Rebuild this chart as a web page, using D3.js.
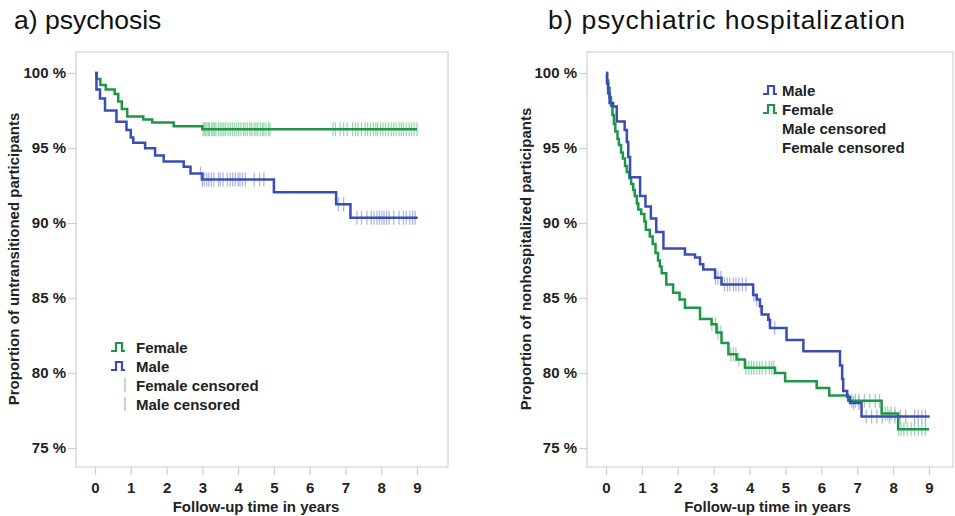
<!DOCTYPE html>
<html>
<head>
<meta charset="utf-8">
<script src="https://cdn.jsdelivr.net/npm/d3@7"></script>
<style>
  body { margin: 0; background: #fff; }
  text { font-family: "Liberation Sans", Arial, sans-serif; }
</style>
</head>
<body>
<svg id="chart" width="955" height="516"></svg>
<script>
// follow-up years on the x axis, percent on the y axis
let xTicks = [0, 1, 2, 3, 4, 5, 6, 7, 8, 9]
let yTicks = [75, 80, 85, 90, 95, 100]

// a) psychosis, Kaplan-Meier steps [year, percent]
let psyFemale = [
  [0, 100], [0.05, 99.6], [0.15, 99.2], [0.3, 98.9], [0.55, 98.6], [0.65, 98.1],
  [0.75, 97.6], [0.9, 97.1], [1.35, 96.9], [1.6, 96.7], [2.2, 96.45], [3.0, 96.25], [9.0, 96.25]
]
let psyMale = [
  [0, 100], [0.04, 98.9], [0.14, 98.3], [0.28, 97.5], [0.6, 96.75], [0.88, 96.2],
  [1.0, 95.7], [1.07, 95.35], [1.4, 94.98], [1.68, 94.5], [1.92, 94.1], [2.48, 93.75],
  [2.67, 93.3], [3.0, 92.9], [5.0, 92.05], [6.74, 91.25], [7.14, 90.35], [9.02, 90.35]
]
let psyFemaleCensored = [
  3.02, 3.05, 3.09, 3.13, 3.17, 3.2, 3.26, 3.3, 3.34, 3.38, 3.45, 3.5, 3.55, 3.6, 3.65,
  3.72, 3.78, 3.84, 3.9, 3.96, 4.02, 4.08, 4.15, 4.2, 4.26, 4.33, 4.38, 4.45, 4.5, 4.55,
  4.62, 4.68, 4.72, 4.78, 4.85, 4.89,
  6.65, 6.72, 6.85, 6.95, 7.05, 7.2, 7.28, 7.35, 7.45, 7.55, 7.62, 7.7, 7.78, 7.85, 7.9,
  7.98, 8.05, 8.12, 8.2, 8.28, 8.35, 8.42, 8.5, 8.56, 8.62, 8.7, 8.78, 8.85, 8.92, 9.0
]
let psyMaleCensored = [
  2.95, 3.0, 3.05, 3.12, 3.18, 3.25, 3.32, 3.45, 3.5, 3.58, 3.7, 3.78, 3.85, 3.92, 4.0,
  4.05, 4.12, 4.2, 4.45, 4.6, 4.72, 6.8, 6.95,
  7.32, 7.45, 7.6, 7.72, 7.8, 7.88, 7.95, 8.02, 8.08, 8.15, 8.22, 8.35, 8.5, 8.62, 8.7,
  8.8, 8.88, 8.95
]

// b) psychiatric hospitalization
let hospMale = [
  [0, 100], [0.03, 99.3], [0.06, 98.65], [0.1, 98.0], [0.2, 97.76], [0.3, 96.76],
  [0.52, 96.2], [0.58, 95.4], [0.62, 94.4], [0.67, 93.05], [0.95, 91.8], [1.1, 91.1],
  [1.25, 90.3], [1.4, 89.4], [1.6, 88.3], [2.2, 87.9], [2.48, 87.7], [2.62, 87.25],
  [2.71, 86.9], [3.04, 86.35], [3.22, 85.9], [4.1, 85.2], [4.2, 84.9], [4.29, 84.45],
  [4.34, 83.9], [4.52, 83.55], [4.57, 83.0], [5.03, 82.2], [5.5, 81.45], [6.52, 80.5],
  [6.58, 79.6], [6.61, 78.8], [6.72, 78.4], [6.8, 78.0], [7.12, 77.1], [9.02, 77.1]
]
let hospFemale = [
  [0, 100], [0.03, 99.5], [0.06, 99.0], [0.1, 98.4], [0.14, 97.8], [0.18, 97.2],
  [0.22, 96.6], [0.26, 96.1], [0.32, 95.6], [0.36, 95.2], [0.42, 94.7], [0.47, 94.3],
  [0.53, 93.8], [0.58, 93.4], [0.65, 93.0], [0.7, 92.6], [0.76, 92.2], [0.8, 91.8],
  [0.86, 91.3], [0.9, 90.9], [0.98, 90.6], [1.07, 90.1], [1.11, 89.55], [1.22, 89.1],
  [1.3, 88.6], [1.38, 88.0], [1.45, 87.5], [1.5, 87.1], [1.55, 86.65], [1.68, 85.9],
  [1.87, 85.35], [2.05, 84.9], [2.2, 84.35], [2.62, 83.6], [2.94, 83.25], [3.08, 82.7],
  [3.22, 82.0], [3.41, 81.25], [3.64, 80.9], [3.87, 80.35], [4.71, 80.0], [4.99, 79.45],
  [5.87, 79.0], [6.22, 78.5], [6.75, 78.15], [7.68, 77.3], [8.14, 76.25], [9.0, 76.25]
]
let hospMaleCensored = [
  3.05, 3.12, 3.2, 3.3, 3.38, 3.45, 3.55, 3.62, 3.7, 3.8, 3.9, 4.12, 4.2, 4.3, 4.55, 4.7,
  6.9, 7.05, 7.25, 7.4, 7.55, 7.7, 7.9, 8.05, 8.2, 8.35, 8.6, 8.7, 8.8, 8.9
]
let hospFemaleCensored = [
  2.95, 3.05, 3.12, 3.2, 3.48, 3.55, 3.62, 3.7, 3.9, 3.98, 4.05, 4.12, 4.2, 4.28, 4.35,
  4.45, 4.55, 4.62, 4.68, 6.85, 6.95, 7.05, 7.2, 7.35, 7.5, 7.62, 7.7, 7.78, 7.85, 7.95,
  8.05, 8.15, 8.22, 8.3, 8.4, 8.5, 8.6, 8.7, 8.8, 8.9
]

let green = "#1f9549"
let blue = "#3a4db2"
let greenLight = "#9fd6b0"
let blueLight = "#b0b8e0"

let svg = d3.select("#chart")

// value of a step curve at time t
let stepAt = (steps, t) => {
  let v = steps[0][1]
  steps.forEach(d => { if (d[0] <= t) v = d[1] })
  return v
}

let drawPanel = cfg => {
  let g = svg.append("g")
  let x = d3.scaleLinear().domain([0, 9]).range([cfg.x0, cfg.x9])
  let y = d3.scaleLinear().domain([75, 100]).range([448, 73])

  let title = g.append("text")
    .attr("x", cfg.titleX)
    .attr("y", 29)
    .attr("font-size", 26.5)
    .attr("fill", "#111")
    .text(cfg.title)
  if (cfg.titleLength) title.attr("textLength", cfg.titleLength).attr("lengthAdjust", "spacing")

  g.append("rect")
    .attr("x", cfg.left)
    .attr("y", 52)
    .attr("width", cfg.right - cfg.left)
    .attr("height", 415)
    .attr("fill", "none")
    .attr("stroke", "#dcdcdc")
    .attr("stroke-width", 1.5)

  let yAxis = g.append("g")
    .attr("transform", `translate(${cfg.left},0)`)
    .call(d3.axisLeft(y).tickValues(yTicks).tickFormat(d => d + " %").tickSize(8).tickPadding(2))
  let xAxis = g.append("g")
    .attr("transform", "translate(0,467)")
    .call(d3.axisBottom(x).tickValues(xTicks).tickSize(8).tickPadding(7))
  ;[yAxis, xAxis].forEach(a => {
    a.select(".domain").remove()
    a.selectAll(".tick line").attr("stroke", "#d0d0d0").attr("stroke-width", 1.2)
    a.selectAll(".tick text")
      .attr("font-size", 15)
      .attr("font-weight", "bold")
      .attr("fill", "#222")
      .style("font-family", "'Liberation Sans', Arial, sans-serif")
  })

  g.append("text")
    .attr("x", (cfg.x0 + cfg.x9) / 2)
    .attr("y", 512)
    .attr("text-anchor", "middle")
    .attr("font-size", 15)
    .attr("font-weight", "bold")
    .attr("fill", "#222")
    .text("Follow-up time in years")

  g.append("text")
    .attr("transform", `translate(${cfg.yTitleX},259) rotate(-90)`)
    .attr("text-anchor", "middle")
    .attr("font-size", 15)
    .attr("font-weight", "bold")
    .attr("fill", "#222")
    .text(cfg.yTitle)

  let line = d3.line()
    .x(d => x(d[0]))
    .y(d => y(d[1]))
    .curve(d3.curveStepAfter)

  // censor marks first, curves over them
  cfg.series.forEach(s => {
    g.append("g")
      .selectAll("line")
      .data(s.censored)
      .enter()
      .append("line")
      .attr("x1", d => x(d))
      .attr("x2", d => x(d))
      .attr("y1", d => y(stepAt(s.steps, d)) - 7)
      .attr("y2", d => y(stepAt(s.steps, d)) + 7)
      .attr("stroke", s.light)
      .attr("stroke-width", 1.3)
  })
  cfg.series.forEach(s => {
    g.append("path")
      .datum(s.steps)
      .attr("d", line)
      .attr("fill", "none")
      .attr("stroke", s.color)
      .attr("stroke-width", 2.5)
  })

  // legend
  let lg = g.append("g").attr("transform", `translate(${cfg.legendX},${cfg.legendY})`)
  cfg.legend.forEach((item, i) => {
    let row = lg.append("g").attr("transform", `translate(0,${i * 19})`)
    if (item.step) {
      row.append("path")
        .attr("d", "M0,4 H5 V-4 H11 V4 H14")
        .attr("fill", "none")
        .attr("stroke", item.color)
        .attr("stroke-width", 2.2)
    } else {
      row.append("line")
        .attr("x1", 14).attr("x2", 14)
        .attr("y1", -7).attr("y2", 7)
        .attr("stroke", item.color)
        .attr("stroke-width", 1.4)
    }
    row.append("text")
      .attr("x", cfg.legendTextDx)
      .attr("y", 5.5)
      .attr("font-size", 15)
      .attr("font-weight", "bold")
      .attr("fill", "#222")
      .text(item.label)
  })
}

drawPanel({
  title: "a) psychosis",
  titleX: 14,
  left: 76, right: 448, x0: 95, x9: 417,
  yTitle: "Proportion of untransitioned participants",
  yTitleX: 19,
  series: [
    { steps: psyFemale, censored: psyFemaleCensored, color: green, light: greenLight },
    { steps: psyMale, censored: psyMaleCensored, color: blue, light: blueLight }
  ],
  legendX: 111, legendY: 347, legendTextDx: 25,
  legend: [
    { label: "Female", color: green, step: true },
    { label: "Male", color: blue, step: true },
    { label: "Female censored", color: greenLight, step: false },
    { label: "Male censored", color: blueLight, step: false }
  ]
})

drawPanel({
  title: "b) psychiatric hospitalization",
  titleX: 548,
  titleLength: 357,
  left: 587, right: 953, x0: 606, x9: 929,
  yTitle: "Proportion of nonhospitalized participants",
  yTitleX: 531,
  series: [
    { steps: hospFemale, censored: hospFemaleCensored, color: green, light: greenLight },
    { steps: hospMale, censored: hospMaleCensored, color: blue, light: blueLight }
  ],
  legendX: 763, legendY: 90, legendTextDx: 19,
  legend: [
    { label: "Male", color: blue, step: true },
    { label: "Female", color: green, step: true },
    { label: "Male censored", color: "#f0f0f0", step: false },
    { label: "Female censored", color: "#f0f0f0", step: false }
  ]
})
</script>
</body>
</html>
